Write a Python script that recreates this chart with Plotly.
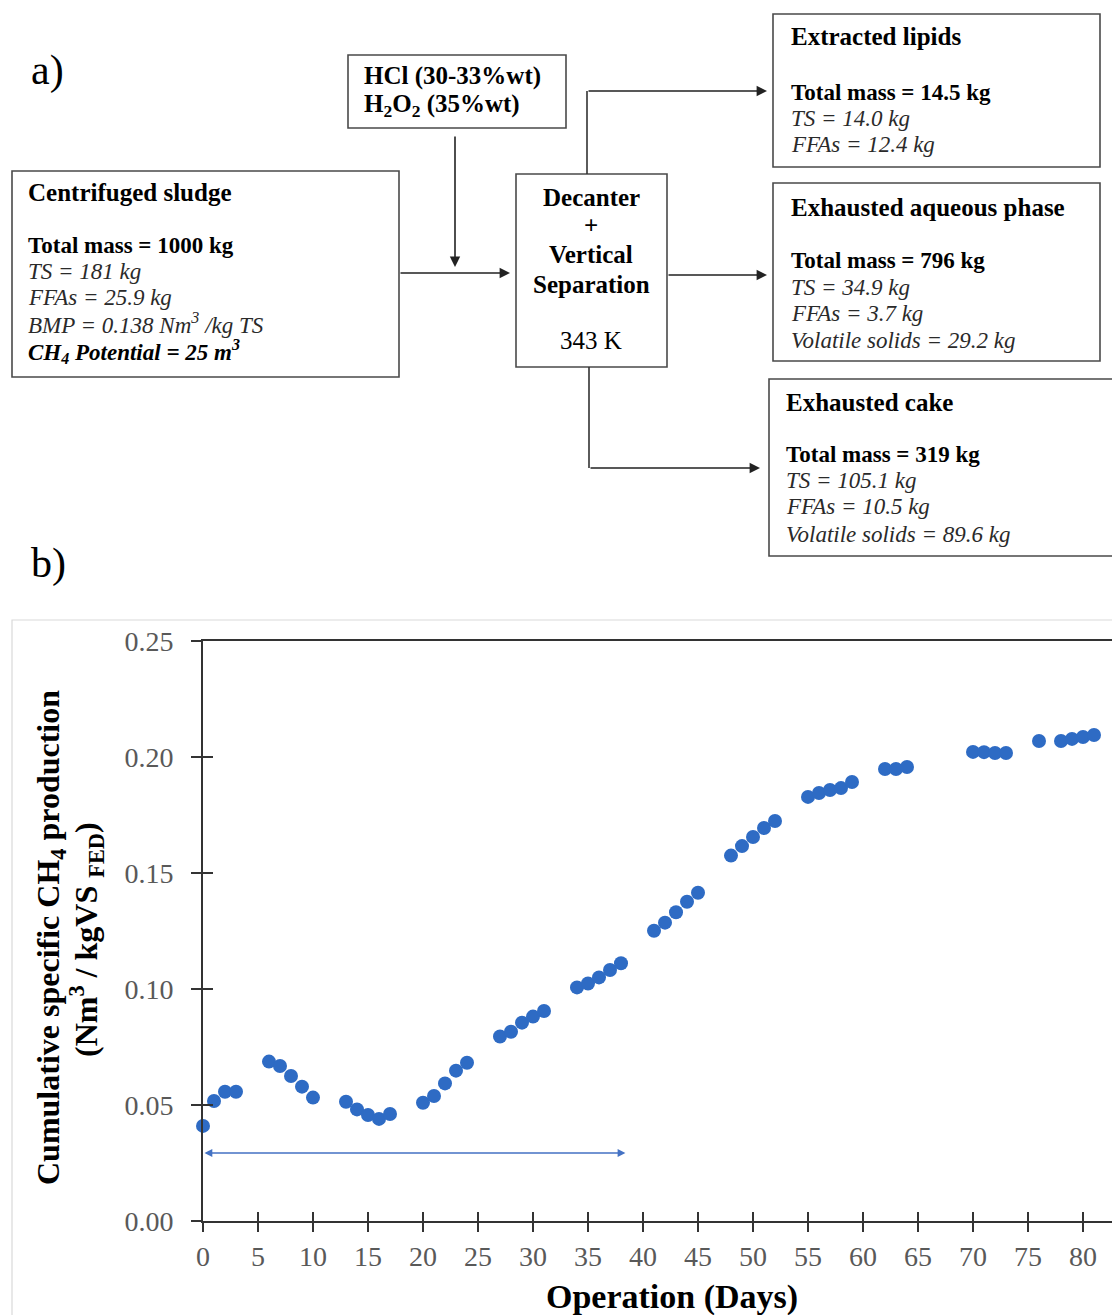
import plotly.graph_objects as go

# ---------------- data ----------------
days = [0, 1, 2, 3, 6, 7, 8, 9, 10, 13, 14, 15, 16, 17, 20, 21, 22, 23, 24,
        27, 28, 29, 30, 31, 34, 35, 36, 37, 38, 41, 42, 43, 44, 45,
        48, 49, 50, 51, 52, 55, 56, 57, 58, 59, 62, 63, 64,
        70, 71, 72, 73, 76, 78, 79, 80, 81]
ch4 = [0.041, 0.0517, 0.0557, 0.0557, 0.0687, 0.0668, 0.0625, 0.0579, 0.0532,
       0.0514, 0.0481, 0.0457, 0.0440, 0.0461, 0.0510, 0.0539, 0.0593, 0.0648, 0.0682,
       0.0795, 0.0816, 0.0855, 0.0881, 0.0905, 0.1007, 0.1024, 0.1050, 0.1082, 0.1111,
       0.1251, 0.1286, 0.1331, 0.1376, 0.1415,
       0.1575, 0.1616, 0.1655, 0.1694, 0.1724, 0.1828, 0.1845, 0.1858, 0.1866, 0.1892,
       0.1948, 0.1948, 0.1957,
       0.2022, 0.2021, 0.2017, 0.2017, 0.2069, 0.2069, 0.2078, 0.2086, 0.2095]
x_ticks = list(range(0, 85, 5))
y_ticks = [0.00, 0.05, 0.10, 0.15, 0.20, 0.25]
arrow_days = [0, 38.4]
arrow_level = 0.0293

sludge_lines = ["<b>Centrifuged sludge</b>", "<b>Total mass = 1000 kg</b>", "<i>TS = 181 kg</i>",
                "<i>FFAs = 25.9 kg</i>", "<i>BMP = 0.138 Nm<sup>3</sup> /kg TS</i>",
                "<b><i>CH<sub>4</sub> Potential = 25 m<sup>3</sup></i></b>"]
reagent_lines = ["<b>HCl (30-33%wt)</b>", "<b>H<sub>2</sub>O<sub>2</sub> (35%wt)</b>"]
decanter_lines = ["<b>Decanter</b>", "<b>+</b>", "<b>Vertical</b>", "<b>Separation</b>", "343 K"]
lipid_lines = ["<b>Extracted lipids</b>", "<b>Total mass = 14.5 kg</b>", "<i>TS = 14.0 kg</i>",
               "<i>FFAs = 12.4 kg</i>"]
aqueous_lines = ["<b>Exhausted aqueous phase</b>", "<b>Total mass = 796 kg</b>", "<i>TS = 34.9 kg</i>",
                 "<i>FFAs = 3.7 kg</i>", "<i>Volatile solids = 29.2 kg</i>"]
cake_lines = ["<b>Exhausted cake</b>", "<b>Total mass = 319 kg</b>", "<i>TS = 105.1 kg</i>",
              "<i>FFAs = 10.5 kg</i>", "<i>Volatile solids = 89.6 kg</i>"]
y_title_lines = ["<b>Cumulative specific CH<sub>4</sub> production</b>",
                 "<b>(Nm<sup>3</sup> / kgVS <sub>FED</sub>)</b>"]
x_title = "<b>Operation (Days)</b>"

# ---------------- layout helpers ----------------
W, H = 1112, 1315
SERIF = "Liberation Serif, Times New Roman, serif"
BOXC = "#4a4a4a"


def X(px):
    return px / W


def Y(py):
    return 1 - py / H


annotations = []
shapes = []


def text(x, y, s, size=23, anchor="left", color="black", angle=0):
    annotations.append(dict(x=X(x), y=Y(y), xref="paper", yref="paper", text=s,
                            showarrow=False, xanchor=anchor, yanchor="middle", textangle=angle,
                            font=dict(family=SERIF, size=size, color=color)))


def box(x0, y0, x1, y1):
    shapes.append(dict(type="rect", xref="paper", yref="paper", x0=X(x0), x1=X(x1),
                       y0=Y(y1), y1=Y(y0), line=dict(color=BOXC, width=1.6)))


def seg(x0, y0, x1, y1):
    shapes.append(dict(type="line", xref="paper", yref="paper", x0=X(x0), x1=X(x1),
                       y0=Y(y0), y1=Y(y1), line=dict(color="#333333", width=1.6)))


def arrow(xh, yh, xt, yt):
    annotations.append(dict(x=X(xh), y=Y(yh), xref="paper", yref="paper", text="",
                            showarrow=True, ax=xt - xh, ay=yt - yh, arrowhead=2,
                            arrowsize=1.3, arrowwidth=1.6, arrowcolor="#222222"))


def lines_at(lines, x, ys, anchor="left", title_size=25, body_size=23):
    for i, (s, yy) in enumerate(zip(lines, ys)):
        col = "#2a2a2a" if s.startswith("<i>") else "black"
        text(x, yy, s, size=title_size if i == 0 else body_size, anchor=anchor, color=col)


# ---------------- flow chart (panel a) ----------------
text(29, 70, "a)", size=42)
text(29, 563, "b)", size=42)

box(12, 171, 399, 377)
box(348, 55, 566, 128)
box(516, 174, 667, 367)
box(773, 14, 1100, 167)
box(773, 183, 1100, 361)
box(769, 379, 1125, 556)

lines_at(sludge_lines, 26, [193, 246, 272, 298, 323, 352])
lines_at(reagent_lines, 362, [76, 105], body_size=25)
lines_at(decanter_lines, 591, [198, 226, 254, 284, 340], anchor="center", body_size=25)
lines_at(lipid_lines, 789, [37, 93, 118, 144])
lines_at(aqueous_lines, 789, [208, 261, 287, 313, 341])
lines_at(cake_lines, 784, [402, 455, 481, 507, 534])

arrow(510, 273, 399, 273)
arrow(455, 267, 455, 135)
seg(587, 174, 587, 91)
arrow(767, 91, 587, 91)
arrow(767, 275, 667, 275)
seg(589, 367, 589, 468)
arrow(760, 468, 589, 468)

# chart panel border
shapes.append(dict(type="rect", xref="paper", yref="paper", x0=X(12), x1=X(1140),
                   y0=Y(1340), y1=Y(620), line=dict(color="#d9d9d9", width=1.2)))

# axis titles
text(50, 938, y_title_lines[0], size=32, anchor="center", angle=-90)
text(86, 940, y_title_lines[1], size=32, anchor="center", angle=-90)
text(672, 1297, x_title, size=34, anchor="center")

# arrow inside chart (data coordinates)
annotations.append(dict(x=arrow_days[1], y=arrow_level, xref="x", yref="y",
                        ax=arrow_days[0], ay=arrow_level, axref="x", ayref="y",
                        text="", showarrow=True, arrowhead=2, arrowside="end+start",
                        arrowsize=1.2, arrowwidth=1.3, arrowcolor="#4472C4"))

# ---------------- figure ----------------
fig = go.Figure()
fig.add_trace(go.Scatter(x=days, y=ch4, mode="markers", cliponaxis=False,
                         marker=dict(size=14, color="#2E6BC4"), showlegend=False))
fig.add_trace(go.Scatter(x=[], y=[], xaxis="x2", yaxis="y2", showlegend=False))

xr = [0, (W - 203) / 11.0]
xdom = [X(203), 1.0]
ydom = [Y(1221), Y(641)]
tickfont = dict(family=SERIF, size=28, color="#595959")

fig.update_layout(
    width=W, height=H, margin=dict(l=0, r=0, t=0, b=0, autoexpand=False),
    paper_bgcolor="white", plot_bgcolor="white", showlegend=False,
    xaxis=dict(domain=xdom, range=xr, tickvals=x_ticks, ticks="outside", ticklen=9,
               tickwidth=1.6, tickcolor="#333", showline=True, linecolor="#333", linewidth=2,
               mirror=True, showgrid=False, zeroline=False, tickfont=tickfont, anchor="y",
               automargin=False),
    yaxis=dict(domain=ydom, range=[0, 0.25], tickvals=y_ticks, tickformat=".2f", ticks="outside",
               ticklen=10, tickwidth=1.6, tickcolor="#333", showline=True, linecolor="#333",
               linewidth=2, showgrid=False, zeroline=False, tickfont=tickfont, anchor="x",
               ticklabelstandoff=12, automargin=False),
    xaxis2=dict(domain=xdom, range=xr, tickvals=x_ticks, ticks="inside", ticklen=9, tickwidth=1.6,
                tickcolor="#333", showticklabels=False, showline=False, showgrid=False,
                zeroline=False, overlaying="x", anchor="y2", side="bottom", automargin=False),
    yaxis2=dict(domain=ydom, range=[0, 0.25], tickvals=y_ticks, ticks="inside", ticklen=10,
                tickwidth=1.6, tickcolor="#333", showticklabels=False, showline=False,
                showgrid=False, zeroline=False, overlaying="y", anchor="x2", side="left",
                automargin=False),
    annotations=annotations, shapes=shapes,
)

fig.write_html("out.html", config={"displayModeBar": False},
               post_script="document.body.style.margin='0';document.body.style.overflow='hidden';")
